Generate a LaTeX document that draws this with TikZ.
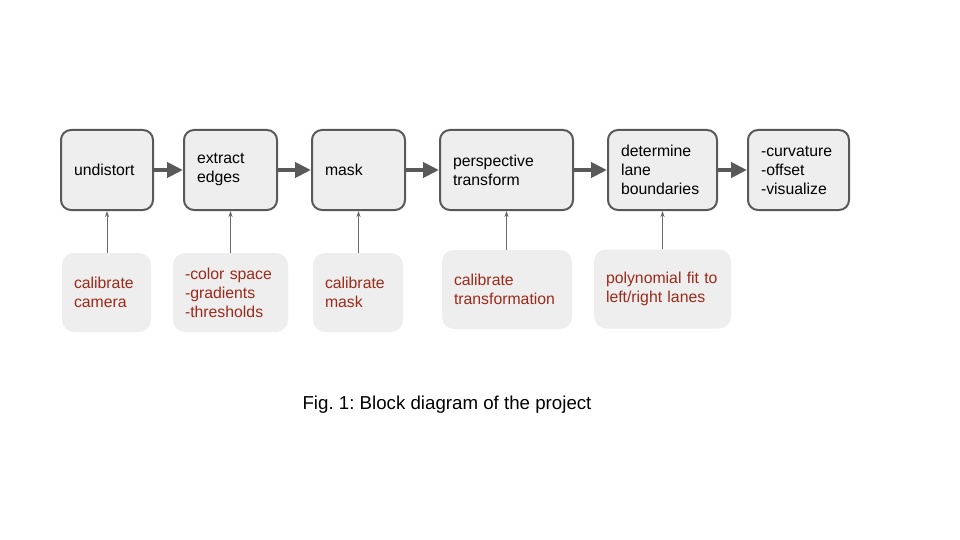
\documentclass[tikz,border=0pt]{standalone}
\usepackage{fontspec}
\setmainfont{Liberation Sans}
\usetikzlibrary{arrows.meta}
\definecolor{boxfill}{HTML}{EEEEEE}
\definecolor{boxline}{HTML}{595959}
\definecolor{redtext}{HTML}{9C2A1A}
\frenchspacing
\begin{document}
\begin{tikzpicture}[x=1pt,y=-1pt,
  topbox/.style={draw=boxline, line width=2pt, fill=boxfill, rounded corners=10pt,
    minimum height=80pt, inner xsep=13pt, inner ysep=0pt, align=left,
    font=\fontsize{15.8}{19}\selectfont, text=black},
  botbox/.style={fill=boxfill, rounded corners=12pt,
    minimum height=79pt, inner xsep=12pt, inner ysep=0pt, align=left,
    font=\fontsize{15.8}{19}\selectfont, text=redtext},
  flow/.style={draw=boxline, line width=4pt, -{Triangle[length=16pt,width=15pt]}},
  feed/.style={draw=boxline!90, line width=0.8pt, -{Stealth[length=6pt,width=4pt]}}
]
\useasboundingbox[fill=white] (0,0) rectangle (960,540);

% top row
\node[topbox, text width=66pt]  (t1) at (107,170)   {undistort};
\node[topbox, text width=67pt]  (t2) at (230.5,170) {extract\\edges};
\node[topbox, text width=67pt]  (t3) at (358.5,170) {mask};
\node[topbox, text width=107pt] (t4) at (506.5,170) {perspective\\transform};
\node[topbox, text width=83pt]  (t5) at (662.5,170) {determine\\lane\\boundaries};
\node[topbox, text width=75pt]  (t6) at (798.5,170) {-curvature\\-offset\\-visualize};

% bottom row
\node[botbox, text width=65pt]  (b1) at (106.5,292.5) {calibrate\\camera};
\node[botbox, text width=91pt]  (b2) at (230.5,292.5) {-color space\\-gradients\\-thresholds};
\node[botbox, text width=66pt]  (b3) at (358,292.5)   {calibrate\\mask};
\node[botbox, text width=106pt] (b4) at (507,289.5)   {calibrate\\transformation};
\node[botbox, text width=113pt] (b5) at (662.5,289)   {polynomial fit to\\left/right lanes};

% flow arrows
\draw[flow] (t1.east) -- (t2.west);
\draw[flow] (t2.east) -- (t3.west);
\draw[flow] (t3.east) -- (t4.west);
\draw[flow] (t4.east) -- (t5.west);
\draw[flow] (t5.east) -- (t6.west);

% feed arrows
\draw[feed] (b1.north -| t1.south) -- (t1.south);
\draw[feed] (b2.north -| t2.south) -- (t2.south);
\draw[feed] (b3.north -| t3.south) -- (t3.south);
\draw[feed] (b4.north -| t4.south) -- (t4.south);
\draw[feed] (b5.north -| t5.south) -- (t5.south);

% caption
\node[font=\fontsize{18.7}{22}\selectfont] (cap) at (447,405) {Fig. 1: Block diagram of the project};
\end{tikzpicture}
\end{document}
